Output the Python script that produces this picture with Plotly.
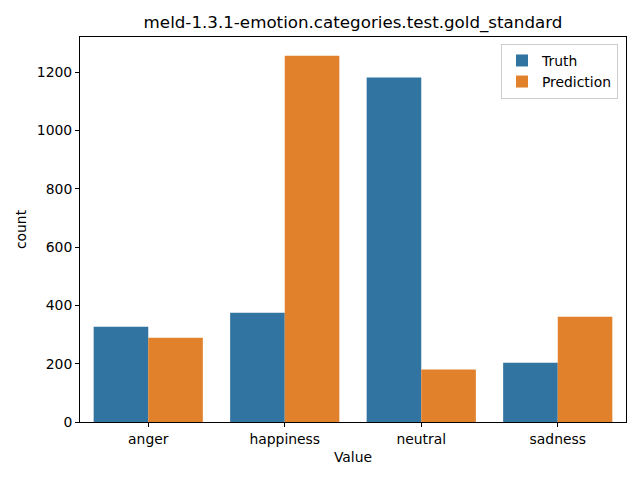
import plotly.graph_objects as go

categories = ["anger", "happiness", "neutral", "sadness"]
truth = [327, 375, 1181, 203]
prediction = [289, 1256, 180, 361]
y_ticks = [0, 200, 400, 600, 800, 1000, 1200]

font_family = "DejaVu Sans"

fig = go.Figure()
fig.add_trace(go.Bar(x=categories, y=truth, name="Truth", marker=dict(color="#3274a1", line=dict(width=0))))
fig.add_trace(go.Bar(x=categories, y=prediction, name="Prediction", marker=dict(color="#e1812c", line=dict(width=0))))

fig.update_layout(
    width=640, height=480,
    margin=dict(l=80, r=14, t=37, b=58, pad=0),
    paper_bgcolor="white", plot_bgcolor="white",
    barmode="group", bargap=0.2, bargroupgap=0,
    font=dict(family=font_family, size=13.9, color="black"),
    title=dict(text="meld-1.3.1-emotion.categories.test.gold_standard",
               x=0.5, xref="paper", xanchor="center",
               y=1 - 22 / 480, yref="container", yanchor="middle",
               font=dict(size=16.7, color="black", family=font_family)),
    legend=dict(x=0.9853, y=0.982, xanchor="right", yanchor="top",
                bordercolor="#cccccc", borderwidth=1, bgcolor="rgba(255,255,255,0.8)",
                font=dict(size=13.9, family=font_family), tracegroupgap=0),
    showlegend=True,
)
fig.update_xaxes(
    showline=True, linecolor="black", linewidth=1, mirror=True,
    ticks="outside", ticklen=4, tickcolor="black", showgrid=False,
    title=dict(text="Value", standoff=6, font=dict(size=13.9)),
)
fig.update_yaxes(
    range=[0, 1320], tickvals=y_ticks,
    showline=True, linecolor="black", linewidth=1, mirror=True,
    ticks="outside", ticklen=4, tickcolor="black", showgrid=False, zeroline=False,
    title=dict(text="count", standoff=6, font=dict(size=13.9)),
)

fig.write_html("out.html", config={"displayModeBar": False},
               post_script="document.body.style.margin='0';")
